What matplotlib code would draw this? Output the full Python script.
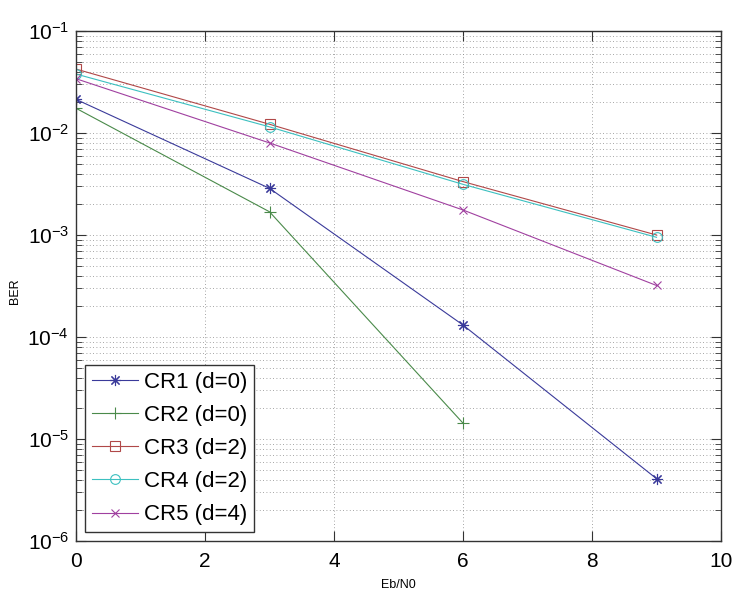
import numpy as np
import matplotlib
matplotlib.use('Agg')
import matplotlib.pyplot as plt
from matplotlib.ticker import LogLocator, NullFormatter, FixedLocator

plt.rcParams['font.family'] = ['Liberation Sans', 'DejaVu Sans']
plt.rcParams['mathtext.fontset'] = 'custom'
plt.rcParams['mathtext.rm'] = 'Liberation Sans'
plt.rcParams['mathtext.it'] = 'Liberation Sans'
plt.rcParams['mathtext.default'] = 'regular'

# data
ebn0 = [0, 3, 6, 9]
ebn0_cr2 = [0, 3, 6]
ber_cr1 = [2.14e-2, 2.87e-3, 1.31e-4, 4.08e-6]
ber_cr2 = [1.75e-2, 1.69e-3, 1.43e-5]
ber_cr3 = [4.24e-2, 1.22e-2, 3.34e-3, 1.00e-3]
ber_cr4 = [3.79e-2, 1.15e-2, 3.14e-3, 9.5e-4]
ber_cr5 = [3.41e-2, 8.0e-3, 1.76e-3, 3.2e-4]
labels = ['CR1 (d=0)', 'CR2 (d=0)', 'CR3 (d=2)', 'CR4 (d=2)', 'CR5 (d=4)']
xticks = [0, 2, 4, 6, 8, 10]
yticks = [1e-6, 1e-5, 1e-4, 1e-3, 1e-2, 1e-1]

fig = plt.figure(figsize=(7.35, 5.95), dpi=100)
ax = fig.add_axes([0.1034, 0.0908, 0.8776, 0.857])

lw = 0.8
ax.semilogy(ebn0, ber_cr1, color='#3a3a9a', marker=(8, 2, 0), ms=8, lw=lw, mew=0.8, label=labels[0])
ax.semilogy(ebn0_cr2, ber_cr2, color='#4a8a4a', marker='+', ms=9, lw=lw, mew=0.8, label=labels[1])
ax.semilogy(ebn0, ber_cr3, color='#b04848', marker='s', ms=7, lw=lw, mfc='none', mew=0.8, label=labels[2])
ax.semilogy(ebn0, ber_cr4, color='#3cc0c0', marker='o', ms=7, lw=lw, mfc='none', mew=0.8, label=labels[3])
ax.semilogy(ebn0, ber_cr5, color='#a040a0', marker='x', ms=6, lw=lw, mew=0.8, label=labels[4])

ax.set_xlim(0, 10)
ax.set_ylim(1e-6, 1e-1)
ax.xaxis.set_major_locator(FixedLocator(xticks))
ax.yaxis.set_major_locator(FixedLocator(yticks))
ax.set_yticklabels([r'$10^{%d}$' % int(np.log10(v)) for v in yticks])
ax.yaxis.set_minor_locator(LogLocator(base=10, subs=np.arange(2, 10), numticks=20))
ax.yaxis.set_minor_formatter(NullFormatter())

ax.grid(True, which='major', ls=(0, (1, 3)), color='#888888', lw=0.6)
ax.grid(True, which='minor', axis='y', ls=(0, (1, 3)), color='#888888', lw=0.6)
ax.tick_params(which='both', direction='in', top=True, right=True, color='#333333')
ax.tick_params(which='major', length=7, labelsize=15)
ax.tick_params(which='minor', length=4)
ax.tick_params(axis='y', labelsize=15, pad=5)
ax.tick_params(axis='x', pad=8)
for s in ax.spines.values():
    s.set_color('#333333')
    s.set_linewidth(1.0)

ax.set_xlabel('Eb/N0', fontsize=9, labelpad=6)
ax.set_ylabel('BER', fontsize=9)
ax.yaxis.set_label_coords(-0.085, 0.49)

leg = ax.legend(loc='lower left', fontsize=16, frameon=True, fancybox=False,
                edgecolor='#333333', framealpha=1, handlelength=2.1,
                handletextpad=0.25, labelspacing=0.55, borderaxespad=0.4,
                borderpad=0.3)
leg.get_frame().set_linewidth(1.0)

fig.savefig('out.png', dpi=100)
